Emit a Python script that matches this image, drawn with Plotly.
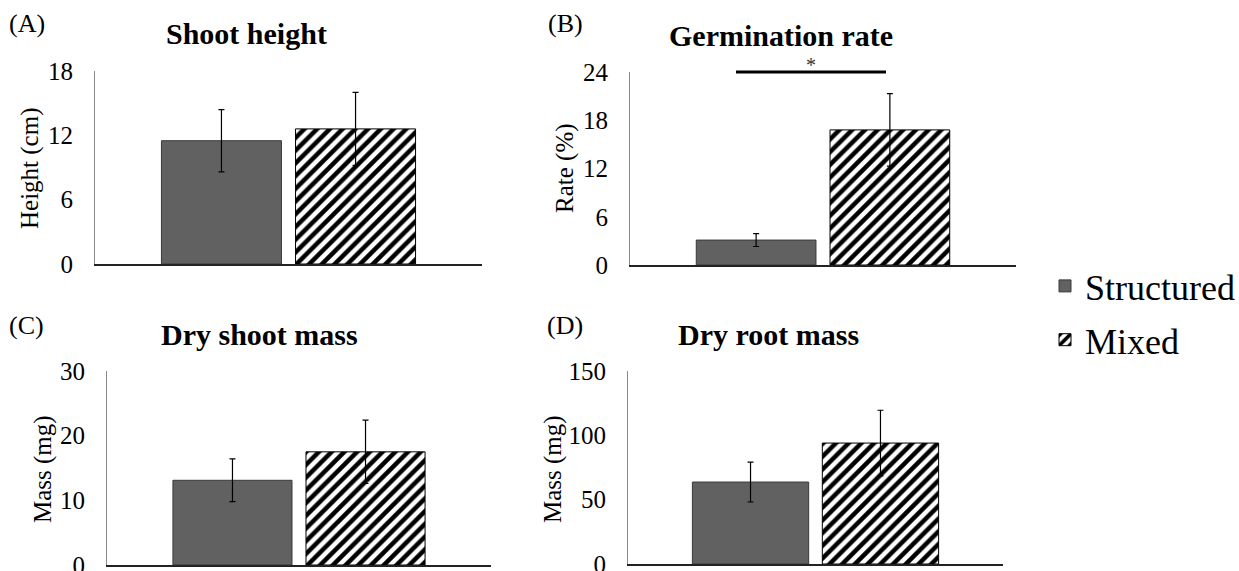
import plotly.graph_objects as go

W, H = 1239, 571

# ---- data ----
panels = ["A", "B", "C", "D"]
titles = ["Shoot height", "Germination rate", "Dry shoot mass", "Dry root mass"]
y_titles = ["Height (cm)", "Rate (%)", "Mass (mg)", "Mass (mg)"]
structured_mean = [11.5, 3.1, 13.1, 63.7]
structured_err = [2.9, 0.8, 3.3, 15.5]
mixed_mean = [12.6, 16.8, 17.5, 94.0]
mixed_err = [3.4, 4.5, 4.9, 25.5]
y_max = [18, 24, 30, 150]
y_ticks = [[0, 6, 12, 18], [0, 6, 12, 18, 24], [0, 10, 20, 30], [0, 50, 100, 150]]
category = [""]

# ---- layout geometry (pixels) ----
plot_px = [  # x0, x1, ytop, ybottom
    (95, 482, 71, 264),
    (630, 1016, 72, 265),
    (107, 491, 371, 565),
    (628, 1003, 371, 564),
]
label_px = [(27, 24), (565, 24), (27, 325), (565, 325)]
title_px = [(246, 34), (781, 35), (259, 334), (768, 334)]
ytitle_px = [(30, 169), (565, 168), (43, 469), (553, 469)]
sig_px = (736, 886, 72)  # significance bar in panel B

FONT = "Liberation Serif"
fig = go.Figure()

for i in range(4):
    n = "" if i == 0 else str(i + 1)
    xa, ya = "x" + n, "y" + n
    fig.add_trace(go.Bar(
        x=category, y=[structured_mean[i]], name="Structured",
        xaxis=xa, yaxis=ya, showlegend=(i == 0), legendgroup="s",
        marker=dict(color="#616161", line=dict(color="#3a3a3a", width=1)),
        error_y=dict(type="data", array=[structured_err[i]], color="black",
                     thickness=1.2, width=3),
    ))
    fig.add_trace(go.Bar(
        x=category, y=[mixed_mean[i]], name="Mixed",
        xaxis=xa, yaxis=ya, showlegend=(i == 0), legendgroup="m",
        marker=dict(color="white", line=dict(color="black", width=1),
                    pattern=dict(shape="/", fgcolor="black", bgcolor="white",
                                 size=9, solidity=0.5)),
        error_y=dict(type="data", array=[mixed_err[i]], color="black",
                     thickness=1.2, width=3),
    ))
    x0, x1, yt, yb = plot_px[i]
    fig.layout["xaxis" + n] = dict(
        domain=[x0 / W, x1 / W], anchor=ya, showticklabels=False, ticks="",
        showgrid=False, zeroline=False, showline=True, linecolor="#222",
        linewidth=1.5, fixedrange=True, automargin=False)
    fig.layout["yaxis" + n] = dict(
        domain=[1 - yb / H, 1 - yt / H], anchor=xa, range=[0, y_max[i]],
        tickvals=y_ticks[i], ticks="", showgrid=False, zeroline=False,
        showline=True, linecolor="#8a8a8a", linewidth=1,
        tickfont=dict(family=FONT, size=25, color="black"),
        ticklabelstandoff=16, ticklabeloverflow="allow",
        fixedrange=True, automargin=False)

    lx, ly = label_px[i]
    fig.add_annotation(text="(" + panels[i] + ")", x=lx / W, y=1 - ly / H,
                       xref="paper", yref="paper", showarrow=False,
                       xanchor="center", yanchor="middle",
                       font=dict(family=FONT, size=26, color="black"))
    tx, ty = title_px[i]
    fig.add_annotation(text="<b>" + titles[i] + "</b>", x=tx / W, y=1 - ty / H,
                       xref="paper", yref="paper", showarrow=False,
                       xanchor="center", yanchor="middle",
                       font=dict(family=FONT, size=30, color="black"))
    ax, ay = ytitle_px[i]
    fig.add_annotation(text=y_titles[i], x=ax / W, y=1 - ay / H,
                       xref="paper", yref="paper", showarrow=False,
                       textangle=-90, xanchor="center", yanchor="middle",
                       font=dict(family=FONT, size=25, color="black"))

# significance bar in panel B
sx0, sx1, sy = sig_px
fig.add_shape(type="line", xref="paper", yref="paper",
              x0=sx0 / W, x1=sx1 / W, y0=1 - sy / H, y1=1 - sy / H,
              line=dict(color="black", width=3))
fig.add_annotation(text="*", xref="paper", yref="paper",
                   x=(sx0 + sx1) / 2 / W, y=1 - sy / H, yshift=7,
                   xanchor="center", yanchor="middle", showarrow=False,
                   font=dict(family=FONT, size=20, color="#333"))

fig.update_layout(
    template="none",
    font=dict(family=FONT, color="black"),
    width=W, height=H, margin=dict(l=0, r=0, t=0, b=0, autoexpand=False),
    paper_bgcolor="white", plot_bgcolor="white",
    barmode="group", bargap=0.307, bargroupgap=0.105,
    legend=dict(x=1045 / W, y=1 - 256 / H, xanchor="left", yanchor="top",
                font=dict(family=FONT, size=36, color="black"),
                traceorder="grouped", tracegroupgap=4, itemwidth=30,
                bgcolor="rgba(0,0,0,0)"),
)

fig.write_html("out.html")
